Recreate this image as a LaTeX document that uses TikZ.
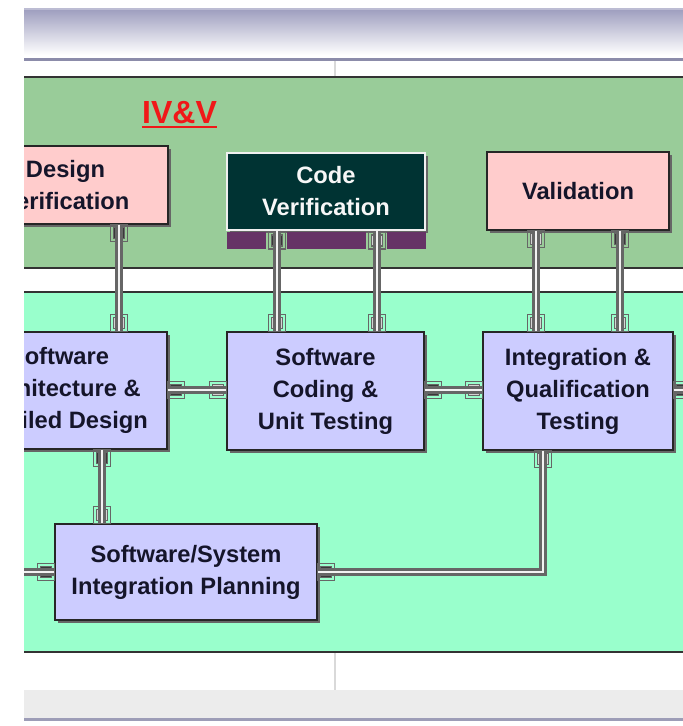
\documentclass[tikz,border=0pt]{standalone}
\usepackage{fontspec}
\setmainfont{Liberation Sans}
\usetikzlibrary{shadows,calc}

\definecolor{bandgreen}{HTML}{99CC99}
\definecolor{bandmint}{HTML}{99FFCC}
\definecolor{boxpink}{HTML}{FFCCCC}
\definecolor{boxlav}{HTML}{CCCCFF}
\definecolor{boxteal}{HTML}{003333}
\definecolor{barpurple}{HTML}{663366}
\definecolor{linkgray}{HTML}{666666}
\definecolor{portdarkfill}{HTML}{383838}
\definecolor{portlightfill}{HTML}{D4D4D4}
\definecolor{chromeA}{HTML}{A0A0C0}
\definecolor{chromeB}{HTML}{8C8CAA}
\definecolor{stripgray}{HTML}{ECECEC}
\definecolor{ivvred}{HTML}{F01818}
\definecolor{inktext}{HTML}{15152A}

\tikzset{
  band/.style={draw=black!80, line width=1.6pt},
  taskbox/.style={draw=black!85, line width=1.3pt, align=center, inner sep=0pt,
    text=inktext, font=\fontsize{23.7}{32}\selectfont\bfseries,
    drop shadow={shadow xshift=3pt, shadow yshift=-3pt, fill=black!60, opacity=1}},
  link/.style={draw=linkgray, line width=2.4pt, double=white!90!gray,
    double distance=2.4pt, line join=miter},
  portline/.style={draw=linkgray, line width=1.5pt},
  portdark/.pic={
    \draw[portline] (-8.5,-8.5) rectangle (8.5,8.5);
    \draw[portline, fill=portdarkfill] (-5.5,-5.5) rectangle (5.5,5.5);
  },
  portlight/.pic={
    \draw[portline] (-8.5,-8.5) rectangle (8.5,8.5);
    \draw[portline, fill=portlightfill] (-5.5,-5.5) rectangle (5.5,5.5);
  },
}

\begin{document}
\begin{tikzpicture}[x=1pt, y=-1pt]
\useasboundingbox (0,0) rectangle (683,726);
\fill[white] (0,0) rectangle (683,726);

\begin{scope}
\clip (24,0) rectangle (683,726);

% window chrome: header bar
\shade[top color=chromeA, bottom color=white] (24,10) rectangle (690,55);
\fill[chromeA!70] (24,8) rectangle (690,10);
\fill[chromeB] (24,58) rectangle (690,61);
\draw[black!15, line width=1.5pt] (335,61) -- (335,77);

% swim lanes
\filldraw[band, fill=bandgreen] (10,77) rectangle (700,268);
\filldraw[band, fill=bandmint] (10,292) rectangle (700,652);

% footer
\draw[black!15, line width=1.5pt] (335,653) -- (335,690);
\fill[stripgray] (24,690) rectangle (690,718);
\fill[chromeB!85] (24,718) rectangle (690,721);

% lane title
\node[text=ivvred, font=\fontsize{32}{36}\selectfont\bfseries, inner sep=0pt, anchor=base]
  (ivv) at (179.5,123) {IV\&V};
\draw[ivvred, line width=2pt] ([yshift=-4pt]ivv.base west) -- ([yshift=-4pt]ivv.base east);

% verification and validation tasks
\node[taskbox, fill=boxpink, minimum width=205pt, minimum height=78pt]
  (dv) at (65.5,185) {Design\\Verification};
\node[taskbox, fill=boxteal, draw=white!88!gray, text=white!94!gray,
  minimum width=198pt, minimum height=77pt]
  (cv) at (326,191.5) {Code\\Verification};
\node[taskbox, fill=boxpink, minimum width=182pt, minimum height=78pt]
  (val) at (578,191) {Validation};

% development tasks
\node[taskbox, fill=boxlav, minimum width=216pt, minimum height=117pt]
  (arch) at (59,390.5) {Software\\Architecture \&\\Detailed Design};
\node[taskbox, fill=boxlav, minimum width=197pt, minimum height=118pt]
  (code) at (325.5,391) {Software\\Coding \&\\Unit Testing};
\node[taskbox, fill=boxlav, minimum width=190pt, minimum height=118pt]
  (integ) at (578,391)
  {\raisebox{-4pt}{\begin{tabular}{@{}c@{}}Integration \&\\Qualification\\Testing\end{tabular}}};
\node[taskbox, fill=boxlav, minimum width=262pt, minimum height=96pt]
  (ssip) at (186,572) {Software/System\\Integration Planning};

% purple strip under Code Verification
\fill[barpurple] (227,232) rectangle (266,249);
\fill[barpurple] (287,232) rectangle (366,249);
\fill[barpurple] (387,232) rectangle (426,249);

% connector tracks
\coordinate (xA) at (119,0);
\coordinate (xB) at (277,0);
\coordinate (xC) at (377,0);
\coordinate (xD) at (536,0);
\coordinate (xE) at (620,0);
\coordinate (xF) at (102,0);
\coordinate (xG) at (543,0);
\coordinate (yH) at (0,390);
\coordinate (yS) at (0,572);
\coordinate (rightEnd) at (700,390);
\coordinate (leftEnd) at (0,572);

% connection points
\pic[shift={(0,8.5)}] at (dv.south -| xA) {portdark};
\pic[shift={(0,-8.5)}] at (arch.north -| xA) {portlight};
\pic[shift={(0,10)}] at (cv.south -| xB) {portdark};
\pic[shift={(0,10)}] at (cv.south -| xC) {portlight};
\pic[shift={(0,-8.5)}] at (code.north -| xB) {portlight};
\pic[shift={(0,-8.5)}] at (code.north -| xC) {portlight};
\pic[shift={(0,8.5)}] at (val.south -| xD) {portlight};
\pic[shift={(0,8.5)}] at (val.south -| xE) {portdark};
\pic[shift={(0,-8.5)}] at (integ.north -| xD) {portlight};
\pic[shift={(0,-8.5)}] at (integ.north -| xE) {portlight};
\pic[shift={(8.5,0)}] at (arch.east |- yH) {portdark};
\pic[shift={(-8.5,0)}] at (code.west |- yH) {portlight};
\pic[shift={(8.5,0)}] at (code.east |- yH) {portdark};
\pic[shift={(-8.5,0)}] at (integ.west |- yH) {portlight};
\pic[shift={(8.5,0)}] at (integ.east |- yH) {portdark};
\pic[shift={(0,8.5)}] at (arch.south -| xF) {portdark};
\pic[shift={(0,-8.5)}] at (ssip.north -| xF) {portlight};
\pic[shift={(-8.5,0)}] at (ssip.west |- yS) {portdark};
\pic[shift={(0,8.5)}] at (integ.south -| xG) {portlight};
\pic[shift={(8.5,0)}] at (ssip.east |- yS) {portdark};

% connectors
\draw[link] (dv.south -| xA) -- (arch.north -| xA);
\draw[link] (cv.south -| xB) -- (code.north -| xB);
\draw[link] (cv.south -| xC) -- (code.north -| xC);
\draw[link] (val.south -| xD) -- (integ.north -| xD);
\draw[link] (val.south -| xE) -- (integ.north -| xE);
\draw[link] (arch.east |- yH) -- (code.west |- yH);
\draw[link] (code.east |- yH) -- (integ.west |- yH);
\draw[link] (integ.east |- yH) -- (rightEnd);
\draw[link] (arch.south -| xF) -- (ssip.north -| xF);
\draw[link] (ssip.west |- yS) -- (leftEnd);
\draw[link] (integ.south -| xG) |- (ssip.east |- yS);
\end{scope}
\end{tikzpicture}
\end{document}
